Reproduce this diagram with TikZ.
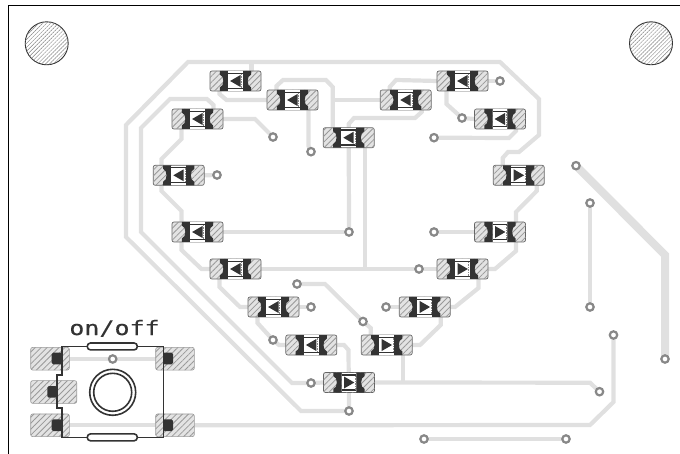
\documentclass[tikz,border=0pt]{standalone}
\usepackage{fontspec}
\newfontfamily\silkfont[FakeStretch=1.25,FakeBold=0.4]{DejaVu Sans Mono}
\usetikzlibrary{calc,patterns.meta}
\pgfdeclarelayer{copper}
\pgfsetlayers{copper,main}
\definecolor{tracegray}{HTML}{E0E0E0}
\definecolor{viagray}{HTML}{888888}
\definecolor{metal}{HTML}{333333}
\tikzset{
  hatched/.style={fill=gray!22,postaction={pattern={Lines[angle=45,distance=4.2pt,line width=.8pt]},pattern color=gray!80}},
  ledbody/.style={draw=gray!80!black,line width=.7pt,hatched,rectangle,rounded corners=2pt,minimum width=51pt,minimum height=20pt,inner sep=0pt,outer sep=0pt},
  swpad/.style={draw=gray!80,line width=.6pt,hatched,rectangle,rounded corners=2pt,minimum height=22.7pt,inner sep=0pt,outer sep=0pt},
  via/.style={circle,draw=viagray,line width=2.2pt,fill=white,minimum size=7.4pt,inner sep=0pt,outer sep=0pt},
  track/.style={draw=tracegray,line width=4.2pt},
  swline/.style={draw=metal,line width=1.6pt},
  hole/.style={circle,draw=metal,line width=.9pt,minimum size=43pt,inner sep=0pt,fill=white,postaction={pattern={Lines[angle=45,distance=2.8pt,line width=.45pt]},pattern color=gray}}
}
\begin{document}
\begin{tikzpicture}[x=1pt,y=-1pt]
  \useasboundingbox (0,0) rectangle (680,454);
  \draw[black,line width=1.3pt] (680,5.6) -- (8.4,5.6) -- (8.4,454);

  \node[hole] (h1) at (46.7,43.3) {};
  \node[hole] (h2) at (651,43.3) {};

  \foreach \nm/\cx/\cy/\dr in {l1/235.5/81/1,l2/292.5/100/1,l3/197.5/119/1,l4/178.7/175.3/1,
      l5/197.5/232/1,l6/235.5/269/1,l7/273.5/307/1,l8/311.3/345/1,c/348.7/137.7/1,
      r1/405.7/100/1,r2/462.5/81/1,r3/500/119/1,r4/518.7/175.3/-1,r5/500/232/-1,
      r6/462.5/269/-1,r7/424.7/307/-1,r8/386.7/345/-1,b/349/382.5/-1} {
    \node[ledbody] (\nm) at (\cx,\cy) {};
    \coordinate (\nm-nw) at (\cx-16,\cy-10);
    \coordinate (\nm-ne) at (\cx+16,\cy-10);
    \coordinate (\nm-sw) at (\cx-16,\cy+10);
    \coordinate (\nm-se) at (\cx+16,\cy+10);
    \begin{scope}[shift={(\cx,\cy)}]
      \fill[metal] (-15.6,-10) -- (-7.4,-10) -- (-7.4,10) -- (-15.6,10) -- (-15.6,6.5)
        .. controls (-11,5) and (-11,-5) .. (-15.6,-6.5) -- cycle;
      \fill[metal] (15.6,-10) -- (7.4,-10) -- (7.4,10) -- (15.6,10) -- (15.6,6.5)
        .. controls (11,5) and (11,-5) .. (15.6,-6.5) -- cycle;
      \fill[white] (-7.4,-9.6) rectangle (7.4,9.6);
      \draw[metal,line width=1.4pt] (-7.4,-7.6) -- (7.4,-7.6) (-7.4,7.4) -- (7.4,7.4);
      \draw[viagray,line width=.7pt,dash pattern=on 1.5pt off 1pt] (6.2,-7) -- (6.2,7);
      \fill[metal,xscale=\dr] (-5.4,0) -- (5,-6) -- (5,6) -- cycle;
    \end{scope}
  }

  \foreach \nm/\cx/\cy in {v1/500/81,v2/462/118,v3/434/137.7,v4/273/137,v5/311/151.7,v6/217/175,
      v7/349/232,v8/434/232,v9/419/269,v10/297/284,v11/311/307,v12/386/307,v13/363/321.5,
      v14/273/340,v15/311/383,v16/349/411,v17/424/439,v18/566/439,v19/599.5/391.7,
      v20/613.5/335,v21/665/359,v22/576/165.7,v23/590/203,v24/590/307}
    \node[via] (\nm) at (\cx,\cy) {};

  \node[swpad,minimum width=38.6pt] (s1) at (50,358.7) {};
  \node[swpad,minimum width=38.6pt] (s2) at (175,358.7) {};
  \node[swpad,minimum width=46pt] (s3) at (53.7,392) {};
  \node[swpad,minimum width=38.6pt] (s4) at (50,425.3) {};
  \node[swpad,minimum width=38.6pt] (s5) at (175,425.3) {};
  \node[via] (v25) at (112.7,359) {};

  \fill[metal,rounded corners=1.5pt] (51.7,352.7) rectangle (62,364.3);
  \fill[metal,rounded corners=1.5pt] (51.7,419.3) rectangle (62,431);
  \fill[metal,rounded corners=1.5pt] (47.3,386) rectangle (57,397.7);
  \fill[metal,rounded corners=1.5pt] (163,352.7) rectangle (173,364.3);
  \fill[metal,rounded corners=1.5pt] (163,419.3) rectangle (173,431);
  \draw[swline] (87,346.5) -- (61.7,346.5) -- (61.7,375) -- (56.7,375) -- (56.7,407.7)
    -- (61.7,407.7) -- (61.7,437.3) -- (87,437.3) (137.5,437.3) -- (163.3,437.3)
    -- (163.3,346.5) -- (137.5,346.5);
  \draw[swline,rounded corners=3.2pt] (87.3,343) rectangle (137.3,349.9);
  \draw[swline,rounded corners=3.2pt] (87.3,433.9) rectangle (137.3,440.8);
  \node[circle,swline,minimum size=46pt,inner sep=0pt] (btn) at (112.7,392.3) {};
  \node[circle,swline,minimum size=38pt,inner sep=0pt] (cap) at (112.7,392.3) {};
  \node[anchor=base,text=metal,inner sep=0pt,font=\silkfont\fontsize{20}{20}\selectfont] (lbl) at (114.5,335) {on/off};

  \begin{pgfonlayer}{copper}
    \draw[track] (v16) -- (301,411) -- (126,237) -- (126,125) -- (188,62) -- (500,62) -- (539,99)
      -- (539,135) -- (519,152) -- (508,152) -- (r4-nw |- 0,158) -- (r4-nw);
    \draw[track] (l3-ne) -- (213.5,105) -- (207,99) -- (170,99) -- (141,128) -- (141,232) -- (292,383) -- (v15);
    \draw[track] (v15) -- (b.west);
    \draw[track] (l1-ne) -- (251.5,62);
    \draw[track] (l1-sw) -- ++(0,3) -- (226.5,100) -- (l2.west);
    \draw[track] (l2-nw) -- (276.5,86) -- (283,80) -- (326,80) -- (332.7,87) -- (c-nw);
    \draw[track] (c-nw |- r1.west) -- (r1.west);
    \draw[track] (l2-se) -- (308.5,146) -- (v5);
    \draw[track] (l3.east) -- (255,119) -- (v4);
    \draw[track] (l3-sw) -- ++(0,10) -- ++(-20,20) -- ++(0,32) -- ++(20,20) -- (l5-nw);
    \draw[track] (l4.east) -- (v6);
    \draw[track] (l5.east) -- (v7);
    \draw[track] (l5-sw) -- ++(0,8) -- (201.5,269) -- (l6.west);
    \draw[track] (l6.east) -- (v9);
    \draw[track] (r6.west) -- (v9);
    \draw[track] (r1-se) -- ++(0,2) -- (415,118) -- (354,118) -- (348.7,124) -- (v7);
    \draw[track] (c-se) -- (c-se |- l6.east);
    \draw[track] (l6-sw) -- ++(0,8) -- (240,307) -- (l7.west);
    \draw[track] (l7.east) -- (v11);
    \draw[track] (l7-sw) -- ++(0,6) -- (v14);
    \draw[track] (v14) -- (279,345) -- (l8.west);
    \draw[track] (l8.east) -- (344,345) -- (348.5,350) -- (v16);
    \draw[track] (b.east) -- (590,382.7) -- (v19);
    \draw[track] (r8-se) -- (r8-se |- b.east);
    \draw[track] (v10) -- (325,284) -- (v13);
    \draw[track] (v13) -- (370.7,328) -- (r8-nw);
    \draw[track] (v12) -- (r7.west);
    \draw[track] (r7-se) -- ++(0,8) -- (420,345) -- (r8.east);
    \draw[track] (r6-se) -- ++(0,9) -- (455,307) -- (r7.east);
    \draw[track] (r5-se) -- ++(0,9) -- (495,269) -- (r6.east);
    \draw[track] ($(r4-se)+(2,0)$) -- (536.7,191) -- (516,212) -- (r5-ne);
    \draw[track] (r5.west) -- (v8);
    \draw[track] (r3-se) -- ++(0,2) -- (509,138) -- (v3);
    \draw[track] (r3.west) -- (v2);
    \draw[track] (r2-sw) -- ++(0,13) -- (v2);
    \draw[track] (r2.east) -- (v1);
    \draw[track] (r1-nw) -- (389.7,87) -- (396,80) -- (r2.west);
    \draw[track] (s1.east) -- (s2.west);
    \draw[track] (s4.east) -- (s5.west);
    \draw[track] (s5.east) -- (590,425) -- (613.5,402) -- (v20);
    \draw[track] (v17) -- (v18);
    \draw[track] (v23) -- (v24);
    \draw[track,line width=8pt] (v22) -- (665,255) -- (v21);
  \end{pgfonlayer}
\end{tikzpicture}
\end{document}
